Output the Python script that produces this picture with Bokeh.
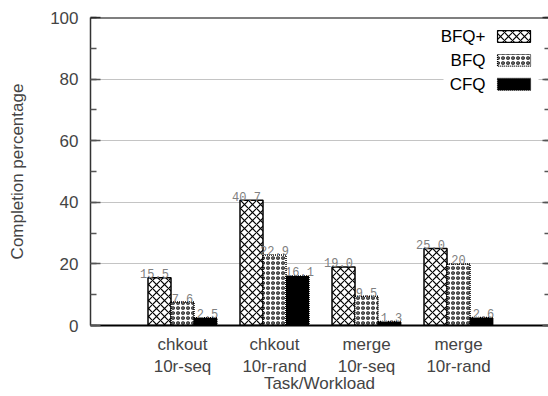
from bokeh.plotting import figure
from bokeh.models import ColumnDataSource, FixedTicker, SingleIntervalTicker, Span, Range1d, LinearAxis
from bokeh.transform import dodge
from bokeh.core.properties import value
from bokeh.embed import file_html
from bokeh.resources import INLINE

# ---- data ----
categories = ["chkout\n10r-seq", "chkout\n10r-rand", "merge\n10r-seq", "merge\n10r-rand"]
series = ["BFQ+", "BFQ", "CFQ"]
bfq_plus = [15.5, 40.7, 19.0, 25.0]
bfq = [7.6, 22.9, 9.5, 20.0]
cfq = [2.5, 16.1, 1.3, 2.6]
bfq_plus_labels = ["15.5", "40.7", "19.0", "25.0"]
bfq_labels = ["7.6", "22.9", "9.5", "20"]
cfq_labels = ["2.5", "16.1", "1.3", "2.6"]
y_ticks = [0, 20, 40, 60, 80, 100]

xs = list(range(len(categories)))
src = ColumnDataSource(dict(x=xs, bfqp=bfq_plus, bfq=bfq, cfq=cfq,
                            lp=bfq_plus_labels, lb=bfq_labels, lc=cfq_labels))

FONT = "Liberation Sans"
MONO = "Liberation Mono"
FS = "17px"

p = figure(width=548, height=396, output_backend="svg", toolbar_location=None,
           x_range=Range1d(-1, 3.978), y_range=Range1d(0, 100),
           min_border_left=90, min_border_right=0, min_border_top=17, min_border_bottom=60)
p.outline_line_color = None
p.background_fill_color = "white"

W = 0.25
styles = [
    dict(field="bfqp", lab="lp", off=-W, fill="white", hatch="diagonal_cross", dash="solid",
         scale=8, weight=1.2, xo=-5),
    dict(field="bfq", lab="lb", off=0.0, fill="white", hatch="ring", dash="1 1",
         scale=5, weight=1.2, xo=0),
    dict(field="cfq", lab="lc", off=W, fill="black", hatch="blank", dash="1 1",
         scale=6, weight=1.0, xo=2),
]
for st in styles:
    p.vbar(x=dodge("x", st["off"], range=p.x_range), top=st["field"], width=W, bottom=0,
           source=src, fill_color=st["fill"], line_color="black", line_width=1.5,
           line_dash=st["dash"], hatch_pattern=st["hatch"], hatch_color="black",
           hatch_scale=st["scale"], hatch_weight=st["weight"])
for st in styles:
    p.text(x=dodge("x", st["off"], range=p.x_range), y=st["field"], text=st["lab"], source=src,
           text_align="center", text_baseline="alphabetic", y_offset=-4, x_offset=st["xo"],
           text_font=value(MONO), text_font_size="12px", text_color="#808080")

# legend (gnuplot style: text right, sample box)
px = lambda v: -1 + (v - 90) / 92.0
py = lambda v: (326 - v) / 3.09
p.quad(left=[px(443)], right=[px(538)], bottom=[py(95)], top=[py(24)],
       fill_color="white", line_color=None)
leg_y = [py(36), py(60), py(84)]
for i, st in enumerate(styles):
    p.quad(left=[px(497)], right=[px(530)], bottom=[leg_y[i] - 1.9], top=[leg_y[i] + 1.9],
           fill_color=st["fill"], line_color="black", line_width=1.2, line_dash=st["dash"],
           hatch_pattern=st["hatch"], hatch_color="black",
           hatch_scale=st["scale"], hatch_weight=st["weight"])
p.text(x=[px(485)] * 3, y=leg_y, text=series, text_align="right", text_baseline="middle",
       text_font=value(FONT), text_font_size=FS, text_color="black")

# axes
yax = p.yaxis[0]
yax.ticker = SingleIntervalTicker(interval=20, num_minor_ticks=2)
yax.axis_label = "Completion percentage"
yax.axis_label_text_font = FONT
yax.axis_label_text_font_size = FS
yax.axis_label_text_font_style = "normal"
yax.axis_label_standoff = 20
yax.major_label_text_font = FONT
yax.major_label_text_font_size = FS
yax.major_label_standoff = 12
yax.major_tick_in = 10
yax.major_tick_out = 0
yax.minor_tick_in = 6
yax.minor_tick_out = 0
yax.axis_line_color = "#333333"
yax.axis_line_width = 1.5
yax.major_tick_line_color = "#555555"
yax.major_tick_line_width = 1.5
yax.minor_tick_line_color = "#555555"
yax.minor_tick_line_width = 1.5

rticks = SingleIntervalTicker(interval=20, num_minor_ticks=2)
rax = LinearAxis(ticker=rticks)
rax.axis_line_color = None
rax.major_label_overrides = {t: "" for t in y_ticks}
rax.major_tick_in = 6
rax.major_tick_out = 0
rax.minor_tick_in = 4
rax.minor_tick_out = 0
rax.major_tick_line_color = "#555555"
rax.minor_tick_line_color = "#555555"
rax.major_tick_line_width = 1.5
rax.minor_tick_line_width = 1.5
p.add_layout(rax, "right")

xax = p.xaxis[0]
xax.ticker = FixedTicker(ticks=xs)
xax.major_label_overrides = {i: c for i, c in enumerate(categories)}
xax.major_label_text_font = FONT
xax.major_label_text_font_size = FS
xax.major_label_standoff = 3
xax.major_tick_line_color = None
xax.minor_tick_line_color = None
xax.axis_line_color = "black"
xax.axis_line_width = 2
xax.axis_label = "Task/Workload"
xax.axis_label_text_font = FONT
xax.axis_label_text_font_size = FS
xax.axis_label_text_font_style = "normal"
xax.axis_label_standoff = -5

p.xgrid.grid_line_color = None
p.ygrid.ticker = FixedTicker(ticks=[20, 40, 60, 80])
p.ygrid.grid_line_color = "#888888"
p.ygrid.grid_line_dash = "1 1"
p.ygrid.grid_line_width = 1

p.add_layout(Span(location=100, dimension="width", line_color="black", line_width=2))

open("out.html", "w").write(file_html(p, INLINE))
